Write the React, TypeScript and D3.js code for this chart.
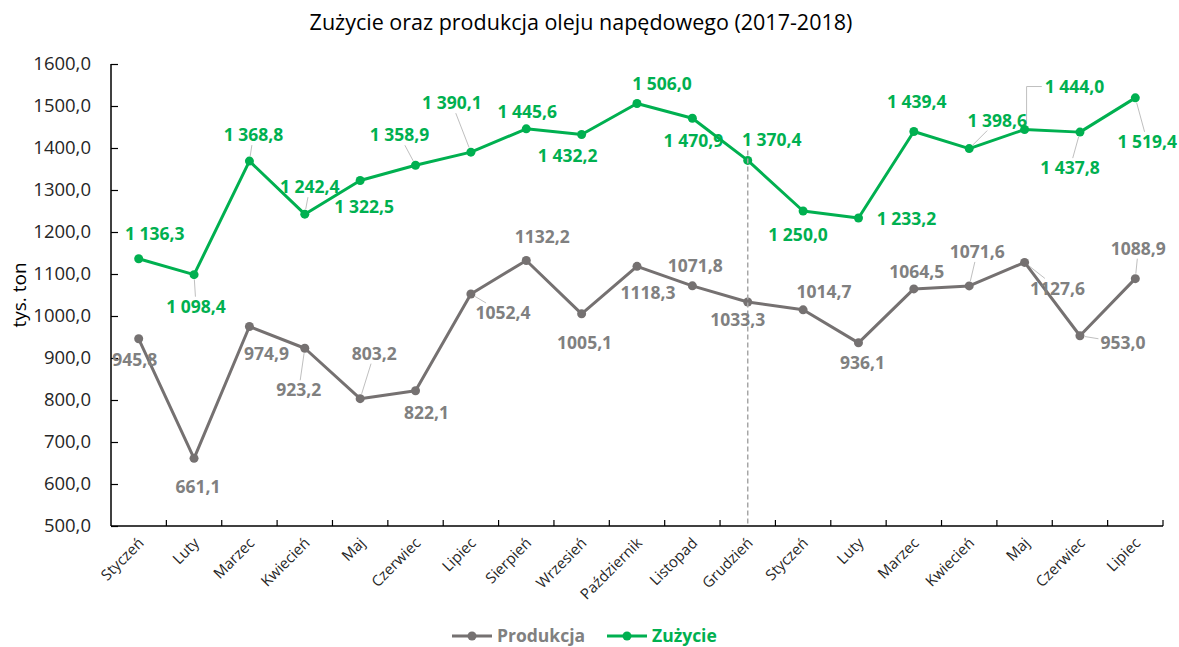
import React, { useEffect, useRef } from 'react';
import * as d3 from 'd3';

const months = ['Styczeń', 'Luty', 'Marzec', 'Kwiecień', 'Maj', 'Czerwiec', 'Lipiec', 'Sierpień', 'Wrzesień', 'Październik', 'Listopad', 'Grudzień', 'Styczeń', 'Luty', 'Marzec', 'Kwiecień', 'Maj', 'Czerwiec', 'Lipiec'];
const produkcja = [945.8, 661.1, 974.9, 923.2, 803.2, 822.1, 1052.4, 1132.2, 1005.1, 1118.3, 1071.8, 1033.3, 1014.7, 936.1, 1064.5, 1071.6, 1127.6, 953.0, 1088.9];
const zuzycie = [1136.3, 1098.4, 1368.8, 1242.4, 1322.5, 1358.9, 1390.1, 1445.6, 1432.2, 1506.0, 1470.9, 1370.4, 1250.0, 1233.2, 1439.4, 1398.6, 1444.0, 1437.8, 1519.4];
const yTicks = [500, 600, 700, 800, 900, 1000, 1100, 1200, 1300, 1400, 1500, 1600];
const markerMonth = 'Grudzień';

// label placement (offset of label centre from its point), layout only
const zOff: [number, number][] = [[16, -25], [2, 32], [4, -26], [5, -27], [4, 26], [-16, -30], [-19, -49], [1, -17], [-14, 21], [25, -20], [1, 23], [24, -21], [-5, 24], [48, 1], [3, -30], [28, -28], [50, -43], [-10, 36], [12, 44]];
const pOff: [number, number][] = [[-4, 21], [4, 29], [17, 27], [-6, 42], [14, -45], [11, 22], [32, 19], [16, -24], [3, 29], [11, 27], [3, -20], [-10, 18], [21, -18], [4, 20], [3, -17], [8, -34], [33, 26], [43, 7], [3, -30]];
// leader lines: 0 none, 1 straight, 2 elbow
const zLead = [0, 1, 1, 1, 0, 1, 1, 0, 0, 0, 0, 0, 0, 0, 0, 1, 2, 1, 1];
const pLead = [0, 0, 0, 1, 1, 0, 1, 0, 0, 0, 0, 0, 0, 0, 0, 1, 1, 1, 1];

const GREEN = '#00B050';
const GRAY_LINE = '#757171';
const GRAY_TXT = '#808080';
const FONT = '"Open Sans", sans-serif';

const fmtAxis = (v: number) => v.toFixed(1).replace('.', ',');
const fmtP = (v: number) => v.toFixed(1).replace('.', ',');
const fmtZ = (v: number) => {
  const s = v.toFixed(1).replace('.', ',');
  return v >= 1000 ? s.slice(0, 1) + ' ' + s.slice(1) : s;
};

export default function App() {
  const ref = useRef<SVGSVGElement>(null);

  useEffect(() => {
    const svg = d3.select(ref.current);
    svg.selectAll('*').remove();
    const left = 111, right = 1163, top = 64, bottom = 526;

    const x = d3.scaleBand<number>().domain(months.map((_, i) => i)).range([left, right]).padding(0);
    const cx = (i: number) => (x(i) as number) + x.bandwidth() / 2;
    const y = d3.scaleLinear().domain([500, 1600]).range([bottom, top]);

    svg.append('text').attr('x', 581).attr('y', 30).attr('text-anchor', 'middle')
      .attr('font-family', FONT).attr('font-size', 21.5).attr('fill', '#000')
      .text('Zużycie oraz produkcja oleju napędowego (2017-2018)');

    // y axis
    const yAxis = svg.append('g').attr('transform', `translate(${left},0)`)
      .call(d3.axisRight(y).tickValues(yTicks).tickSize(7).tickFormat(() => ''));
    yAxis.select('.domain').attr('stroke', '#000').attr('stroke-width', 1.5).attr('d', `M0,${top}V${bottom}`);
    yAxis.selectAll('.tick line').attr('stroke', '#000').attr('stroke-width', 1.2);
    svg.append('g').selectAll('text').data(yTicks).join('text')
      .attr('x', 91).attr('y', d => y(d)).attr('dy', '0.35em').attr('text-anchor', 'end')
      .attr('font-family', FONT).attr('font-size', 18.5).attr('fill', '#262626')
      .text(d => fmtAxis(d));

    svg.append('text').attr('transform', `translate(26,295) rotate(-90)`).attr('text-anchor', 'middle')
      .attr('font-family', FONT).attr('font-size', 19).attr('fill', '#000').text('tys. ton');

    // x axis
    const bounds = d3.range(months.length + 1).map(i => left + i * x.bandwidth());
    svg.append('line').attr('x1', left).attr('x2', right).attr('y1', bottom).attr('y2', bottom)
      .attr('stroke', '#000').attr('stroke-width', 1.5);
    svg.append('g').selectAll('line').data(bounds.slice(1)).join('line')
      .attr('x1', d => d).attr('x2', d => d).attr('y1', bottom).attr('y2', bottom - 6)
      .attr('stroke', '#000').attr('stroke-width', 1.2);
    svg.append('g').selectAll('text').data(months).join('text')
      .attr('transform', (_, i) => `translate(${cx(i) + 6},${bottom + 18}) rotate(-45)`)
      .attr('text-anchor', 'end').attr('font-family', FONT).attr('font-size', 15).attr('fill', '#262626')
      .text(d => d);

    const line = d3.line<number>().x((_, i) => cx(i)).y(d => y(d));

    const leaderLayer = svg.append('g');

    svg.append('path').attr('d', line(produkcja)).attr('fill', 'none').attr('stroke', GRAY_LINE)
      .attr('stroke-width', 3).attr('stroke-linejoin', 'round');
    svg.append('g').selectAll('circle').data(produkcja).join('circle')
      .attr('cx', (_, i) => cx(i)).attr('cy', d => y(d)).attr('r', 4.5).attr('fill', GRAY_LINE);

    svg.append('path').attr('d', line(zuzycie)).attr('fill', 'none').attr('stroke', GREEN)
      .attr('stroke-width', 3).attr('stroke-linejoin', 'round');
    svg.append('g').selectAll('circle').data(zuzycie).join('circle')
      .attr('cx', (_, i) => cx(i)).attr('cy', d => y(d)).attr('r', 4.5).attr('fill', GREEN);

    // dashed marker line
    const gi = months.indexOf(markerMonth);
    svg.append('line').attr('x1', cx(gi)).attr('x2', cx(gi)).attr('y1', y(zuzycie[gi]) - 10).attr('y2', bottom)
      .attr('stroke', '#a6a6a6').attr('stroke-width', 1.5).attr('stroke-dasharray', '5,3');

    const labelLayer = svg.append('g');

    const drawLabels = (vals: number[], off: [number, number][], lead: number[], fmt: (v: number) => string, color: string) => {
      vals.forEach((v, i) => {
        const px = cx(i), py = y(v);
        const lx = px + off[i][0], ly = py + off[i][1];
        const t = labelLayer.append('text').attr('x', lx).attr('y', ly).attr('dy', '0.35em')
          .attr('text-anchor', 'middle').attr('font-family', FONT).attr('font-size', 17.5)
          .attr('font-weight', 'bold').attr('fill', color).text(fmt(v));
        if (!lead[i]) return;
        const bb = (t.node() as SVGTextElement).getBBox();
        const hw = bb.width / 2 + 2, hh = bb.height / 2 - 2;
        if (lead[i] === 2) {
          const ex = bb.x - 3;
          leaderLayer.append('path').attr('d', `M${px + 2},${py - 5}V${ly}H${ex}`)
            .attr('fill', 'none').attr('stroke', '#bfbfbf').attr('stroke-width', 1);
          return;
        }
        const dx = px - lx, dy = py - ly;
        const s = Math.min(hw / Math.abs(dx || 1e-6), hh / Math.abs(dy || 1e-6));
        const ex = lx + dx * s, ey = ly + dy * s;
        const len = Math.hypot(ex - px, ey - py);
        if (len < 6) return;
        const sx = px + (ex - px) / len * 5, sy = py + (ey - py) / len * 5;
        leaderLayer.append('line').attr('x1', sx).attr('y1', sy).attr('x2', ex).attr('y2', ey)
          .attr('stroke', '#bfbfbf').attr('stroke-width', 1);
      });
    };
    drawLabels(zuzycie, zOff, zLead, fmtZ, GREEN);
    drawLabels(produkcja, pOff, pLead, fmtP, GRAY_TXT);

    // legend
    const lg = svg.append('g');
    const items = [{ name: 'Produkcja', color: GRAY_LINE, tc: GRAY_TXT, x0: 452 }, { name: 'Zużycie', color: GREEN, tc: GREEN, x0: 607 }];
    items.forEach(it => {
      lg.append('line').attr('x1', it.x0).attr('x2', it.x0 + 40).attr('y1', 636).attr('y2', 636)
        .attr('stroke', it.color).attr('stroke-width', 3);
      lg.append('circle').attr('cx', it.x0 + 20).attr('cy', 636).attr('r', 4.5).attr('fill', it.color);
      lg.append('text').attr('x', it.x0 + 45).attr('y', 636).attr('dy', '0.35em')
        .attr('font-family', FONT).attr('font-size', 17.5).attr('font-weight', 'bold').attr('fill', it.tc).text(it.name);
    });
  }, []);

  return (
    <svg ref={ref} width={1179} height={647} style={{ position: 'absolute', left: 0, top: 0, background: '#fff' }} />
  );
}
